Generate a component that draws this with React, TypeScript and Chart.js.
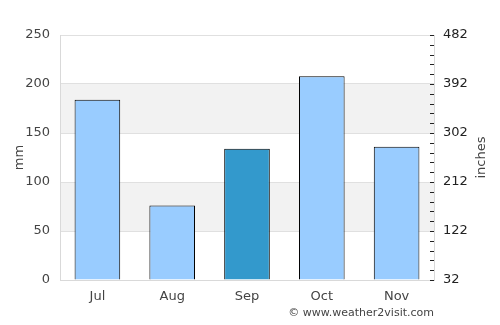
import React, { useEffect, useRef } from "react";
import { Chart, registerables } from "chart.js";

Chart.register(...registerables);

const months = ["Jul", "Aug", "Sep", "Oct", "Nov"];
const rainfallMm = [184, 76, 134, 208, 136];
const highlightIndex = 2;
const leftTicks = [0, 50, 100, 150, 200, 250];
const rightMin = 32;
const rightMax = 482;
const rightMajorStep = 90;
const rightMinorStep = 18;
const leftTitle = "mm";
const rightTitle = "inches";
const footerText = "© www.weather2visit.com";

const FONT = "'DejaVu Sans', sans-serif";
const TEXT = "#444444";

const bandsPlugin = {
  id: "bands",
  beforeDraw(chart: any) {
    const { ctx, chartArea } = chart;
    const y = chart.scales.y;
    ctx.save();
    ctx.fillStyle = "#f2f2f2";
    for (let i = 1; i < leftTicks.length - 1; i += 2) {
      const top = y.getPixelForValue(leftTicks[i + 1]);
      const bot = y.getPixelForValue(leftTicks[i]);
      ctx.fillRect(chartArea.left, top, chartArea.right - chartArea.left, bot - top);
    }
    ctx.restore();
  },
  afterDraw(chart: any) {
    const { ctx, chartArea } = chart;
    const y2 = chart.scales.y2;
    ctx.save();
    ctx.strokeStyle = "#222222";
    ctx.lineWidth = 1;
    for (let v = rightMin; v <= rightMax; v += rightMinorStep) {
      const py = Math.round(y2.getPixelForValue(v)) + 0.5;
      ctx.beginPath();
      ctx.moveTo(chartArea.right - 4, py);
      ctx.lineTo(chartArea.right, py);
      ctx.stroke();
    }
    const midY = (chartArea.top + chartArea.bottom) / 2;
    ctx.fillStyle = TEXT;
    ctx.font = `13px ${FONT}`;
    ctx.textAlign = "center";
    ctx.textBaseline = "middle";
    ctx.save();
    ctx.translate(20, midY);
    ctx.rotate(-Math.PI / 2);
    ctx.fillText(leftTitle, 0, 0);
    ctx.restore();
    ctx.save();
    ctx.translate(482, midY);
    ctx.rotate(-Math.PI / 2);
    ctx.fillText(rightTitle, 0, 0);
    ctx.restore();
    ctx.font = `11px ${FONT}`;
    ctx.textAlign = "right";
    ctx.fillText(footerText, 434, 313);
    ctx.restore();
  },
};

export default function App() {
  const ref = useRef<HTMLCanvasElement>(null);
  useEffect(() => {
    document.body.style.margin = "0";
    const chart = new Chart(ref.current!, {
      type: "bar",
      data: {
        labels: months,
        datasets: [
          {
            data: rainfallMm,
            backgroundColor: rainfallMm.map((_, i) => (i === highlightIndex ? "#3399cc" : "#99ccff")),
            borderColor: "#000000",
            borderWidth: 1,
            barPercentage: 0.61,
            categoryPercentage: 1,
            yAxisID: "y",
          },
        ],
      },
      options: {
        animation: false,
        responsive: false,
        maintainAspectRatio: false,
        layout: { padding: { top: 35, left: 0, right: 0, bottom: 0 } },
        plugins: { legend: { display: false }, tooltip: { enabled: false } },
        scales: {
          x: {
            grid: { display: false, drawTicks: false },
            border: { color: "#d9d9d9" },
            ticks: { color: TEXT, font: { family: FONT, size: 13 }, padding: 9 },
            afterFit: (s: any) => {
              s.height = 45;
            },
          },
          y: {
            position: "left",
            min: 0,
            max: 250,
            ticks: { stepSize: 50, color: TEXT, font: { family: FONT, size: 13 }, padding: 10 },
            grid: { color: "#e0e0e0", drawTicks: false },
            border: { color: "#d9d9d9" },
            afterFit: (s: any) => {
              s.width = 60;
            },
          },
          y2: {
            position: "right",
            min: rightMin,
            max: rightMax,
            ticks: {
              stepSize: rightMajorStep,
              color: "#222222",
              font: { family: FONT, size: 13 },
              padding: 9,
            },
            grid: { drawOnChartArea: false, drawTicks: false },
            border: { color: "#d9d9d9" },
            afterFit: (s: any) => {
              s.width = 66;
            },
          },
        },
      },
      plugins: [bandsPlugin],
    });
    return () => chart.destroy();
  }, []);
  return (
    <div style={{ position: "absolute", left: 0, top: 0, width: 500, height: 325 }}>
      <canvas ref={ref} width={500} height={325} style={{ width: 500, height: 325 }} />
    </div>
  );
}
